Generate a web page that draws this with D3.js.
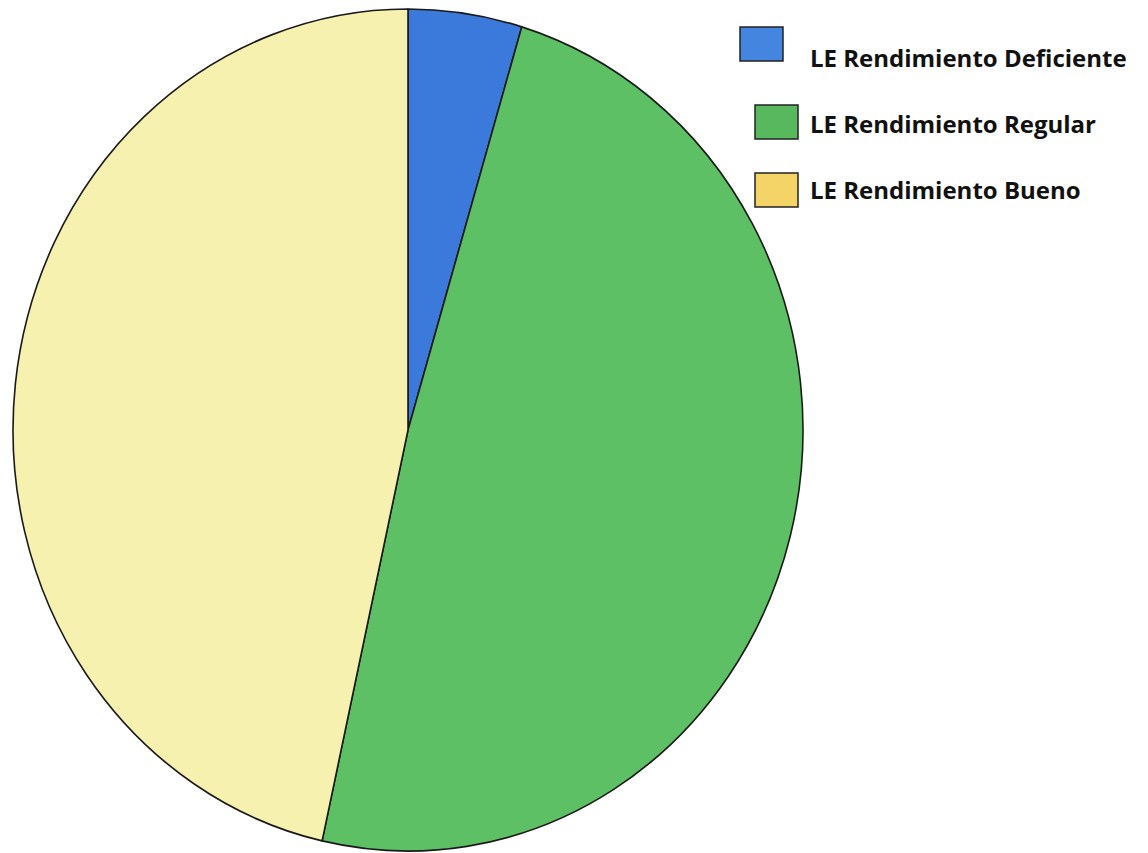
<!DOCTYPE html>
<meta charset="utf-8">
<script src="https://d3js.org/d3.v7.min.js"></script>
<style>
  body { margin: 0; background: #fff; }
  text { font-family: "Open Sans", sans-serif; font-weight: bold; }
</style>
<div id="chart"></div>
<script>
// data
var categories = ["LE Rendimiento Deficiente", "LE Rendimiento Regular", "LE Rendimiento Bueno"];
var counts = [2, 21, 20];
var sliceColors = ["#3b79da", "#5dc064", "#f6f1ae"];
var legendColors = ["#4485e0", "#57b85e", "#f5d467"];

var width = 1148, height = 853;
var cx = 408, cy = 430, rx = 395, ry = 421;

var svg = d3.select("#chart").append("svg")
    .attr("width", width)
    .attr("height", height);

var pie = d3.pie().sort(null).value(function(d) { return d; });
var arc = d3.arc().innerRadius(0).outerRadius(rx);

// squash the circle a little, the scan is slightly oval
var g = svg.append("g")
    .attr("transform", "translate(" + cx + "," + cy + ") scale(1," + (ry / rx) + ")");

g.selectAll("path")
  .data(pie(counts))
  .enter().append("path")
    .attr("d", arc)
    .attr("fill", function(d, i) { return sliceColors[i]; })
    .attr("stroke", "#1a1a1a")
    .attr("stroke-width", 1.6)
    .attr("stroke-linejoin", "round");

// legend
var legend = [
  {sx: 740, sy: 27, tx: 810, ty: 67},
  {sx: 755, sy: 105, tx: 810, ty: 133},
  {sx: 755, sy: 173, tx: 810, ty: 199}
];

var lg = svg.selectAll(".legend")
  .data(categories)
  .enter().append("g")
    .attr("class", "legend");

lg.append("rect")
    .attr("x", function(d, i) { return legend[i].sx; })
    .attr("y", function(d, i) { return legend[i].sy; })
    .attr("width", 43)
    .attr("height", 34)
    .attr("fill", function(d, i) { return legendColors[i]; })
    .attr("stroke", "#222")
    .attr("stroke-width", 1.5);

lg.append("text")
    .attr("x", function(d, i) { return legend[i].tx; })
    .attr("y", function(d, i) { return legend[i].ty; })
    .attr("font-size", 24)
    .attr("fill", "#111")
    .text(function(d) { return d; });
</script>
